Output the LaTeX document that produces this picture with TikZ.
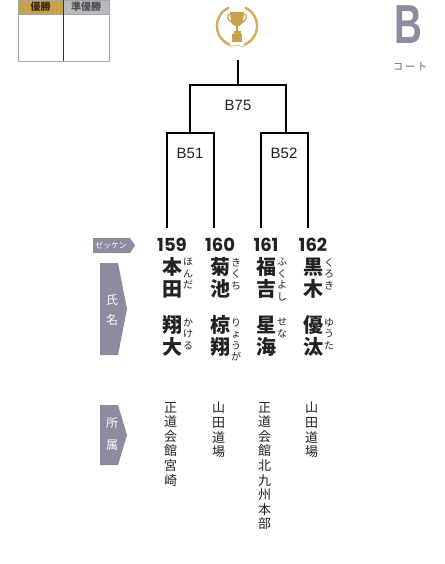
\documentclass[tikz,border=0pt]{standalone}
\usepackage{fontspec}
\setmainfont{Liberation Sans}
\newfontfamily\jp{Noto Sans CJK JP}
\newfontfamily\numfont{Poppins}
\usetikzlibrary{positioning}

\definecolor{gold}{HTML}{C9A14C}
\definecolor{tabgray}{HTML}{8C8B9F}
\definecolor{silver}{HTML}{B9B8C0}
\definecolor{ink}{HTML}{222222}

\tikzset{
  bracket/.style={line width=1.8pt, line join=miter},
  match/.style={font=\fontsize{15}{15}\selectfont, text=ink},
  zekken/.style={font=\numfont\bfseries\fontsize{18}{18}\selectfont, text=ink, inner sep=0pt},
  sei/.style={font=\jp\bfseries\fontsize{20}{22}\selectfont, align=center, inner sep=0pt, text=ink},
  furi/.style={font=\jp\fontsize{10}{11.5}\selectfont, align=center, inner sep=0pt, anchor=north, text=ink},
  club/.style={font=\jp\fontsize{13}{14.6}\selectfont, align=center, inner sep=0pt, anchor=north, text=ink},
  tablabel/.style={font=\jp\fontsize{12}{20}\selectfont, text=white, align=center, inner sep=0pt},
}

\begin{document}
\begin{tikzpicture}[x=1pt, y=-1pt]
\useasboundingbox (0,0) rectangle (444,564);

% winner table
\fill[gold] (18,0) rectangle (63,14);
\fill[silver] (63,0) rectangle (109,14);
\draw[gray!70, line width=0.8pt] (18,0) rectangle (109,61);
\draw[gray!70, line width=0.8pt] (18,14) -- (109,14);
\draw[black!80, line width=0.9pt] (63,0) -- (63,61);
\node[font=\jp\bfseries\fontsize{10}{10}\selectfont, text=black!70!brown, inner sep=0pt] (win) at (40.5,7) {優勝};
\node[font=\jp\bfseries\fontsize{10}{10}\selectfont, text=black!70, inner sep=0pt] (runner) at (86,7) {準優勝};

% court
\node[font=\bfseries\fontsize{55}{55}\selectfont, text=tabgray, inner sep=0pt, anchor=base] (court) at (408,44) {\scalebox{0.7}[1]{B}};
\node[font=\jp\fontsize{10}{10}\selectfont, text=tabgray!70!black, inner sep=0pt] (courtlbl) at (410,67) {コ\hspace{2pt}ー\hspace{2pt}ト};

% trophy
\begin{scope}[shift={(237,26)}]
\fill[gold] (-7,-14) -- (7,-14) -- (6.3,-6) .. controls (5.5,-2) and (3,0) .. (1.2,0.5) -- (-1.2,0.5) .. controls (-3,0) and (-5.5,-2) .. (-6.3,-6) -- cycle;
\draw[gold, line width=1.2pt] (-6.5,-12) .. controls (-11,-12) and (-10,-5) .. (-4,-3);
\draw[gold, line width=1.2pt] (6.5,-12) .. controls (11,-12) and (10,-5) .. (4,-3);
\fill[gold] (-1.3,0) rectangle (1.3,6);
\fill[gold] (-3.5,5) rectangle (3.5,8);
\fill[gold] (-5,8.5) rectangle (5,16);
\foreach \a in {122,134,...,250}
  \fill[gold!85, rotate=\a] (20,0) ellipse [x radius=1.4, y radius=3.6];
\foreach \a in {58,46,...,-70}
  \fill[gold!85, rotate=\a] (20,0) ellipse [x radius=1.4, y radius=3.6];
\draw[gold!85, line width=0.6pt] (-7,21) .. controls (-2,19) and (2,19) .. (7,21);
\end{scope}

% bracket
\coordinate (top) at (238,60);
\coordinate (f) at (238,85);
\coordinate (s1) at (190,133);
\coordinate (s2) at (286,133);
\node[match] (b75) at (238,105) {B75};
\node[match] (b51) at (190,153) {B51};
\node[match] (b52) at (284,153) {B52};

% side tabs
\fill[tabgray] (93,238) -- (130,238) -- (135,245.5) -- (130,253) -- (93,253) -- cycle;
\node[tablabel, font=\jp\fontsize{8}{8}\selectfont] (zk) at (111,245.5) {ゼッケン};
\fill[tabgray] (100,263) -- (118,263) -- (127,309) -- (118,355) -- (100,355) -- cycle;
\node[tablabel] (shimei) at (112,310) {氏\\名};
\fill[tabgray] (100,405) -- (118,405) -- (127,435) -- (118,465) -- (100,465) -- cycle;
\node[tablabel, font=\jp\fontsize{12}{22}\selectfont] (shozoku) at (112,434) {所\\属};

% players
\foreach \id/\lx/\cx/\sei/\mei/\fs/\fm/\club in {
  159/167/172/{本\\田}/{翔\\大}/{ほ\\ん\\だ}/{か\\け\\る}/{正\\道\\会\\館\\宮\\崎},
  160/214/220/{菊\\池}/{椋\\翔}/{き\\く\\ち}/{り\\ょ\\う\\が}/{山\\田\\道\\場},
  161/261/266/{福\\吉}/{星\\海}/{ふ\\く\\よ\\し}/{せ\\な}/{正\\道\\会\\館\\北\\九\\州\\本\\部},
  162/308/313/{黒\\木}/{優\\汰}/{く\\ろ\\き}/{ゆ\\う\\た}/{山\\田\\道\\場}} {
  \coordinate (l\id) at (\lx,228);
  \node[zekken] (p\id) at (\cx,245) {\id};
  \node[sei] (sei\id) at (\cx,278) {\sei};
  \node[sei] (mei\id) at (\cx,336) {\mei};
  \node[furi] (fs\id) at ({\cx+16},258) {\fs};
  \node[furi] (fm\id) at ({\cx+16},318) {\fm};
  \node[club] (club\id) at ({\cx-1.5},402) {\club};
}

\draw[bracket] (l159) |- (s1) -| (l160);
\draw[bracket] (l161) |- (s2) -| (l162);
\draw[bracket] (s1) |- (f) -| (s2);
\draw[bracket] (f) -- (top);
\end{tikzpicture}
\end{document}
